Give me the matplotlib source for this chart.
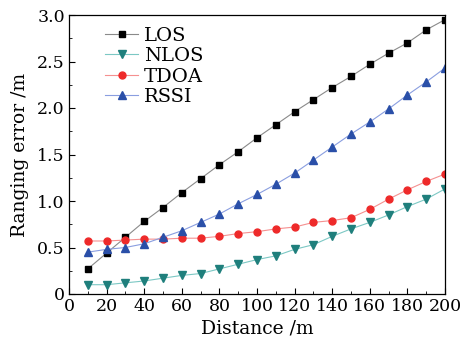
import matplotlib
matplotlib.use("Agg")
import matplotlib.pyplot as plt
from matplotlib.ticker import MultipleLocator

distance = [10, 20, 30, 40, 50, 60, 70, 80, 90, 100, 110, 120, 130, 140, 150, 160, 170, 180, 190, 200]
los = [0.27, 0.44, 0.61, 0.78, 0.93, 1.09, 1.24, 1.39, 1.53, 1.68, 1.82, 1.96, 2.09, 2.22, 2.34, 2.47, 2.59, 2.70, 2.84, 2.95]
nlos = [0.10, 0.10, 0.12, 0.14, 0.17, 0.20, 0.22, 0.27, 0.32, 0.37, 0.41, 0.48, 0.53, 0.62, 0.70, 0.77, 0.85, 0.94, 1.02, 1.13]
tdoa = [0.57, 0.57, 0.58, 0.59, 0.59, 0.60, 0.60, 0.62, 0.65, 0.67, 0.70, 0.72, 0.77, 0.79, 0.82, 0.91, 1.02, 1.12, 1.21, 1.29]
rssi = [0.45, 0.48, 0.50, 0.54, 0.61, 0.68, 0.77, 0.86, 0.97, 1.07, 1.18, 1.30, 1.44, 1.58, 1.72, 1.85, 1.99, 2.14, 2.28, 2.43]

plt.rcParams['font.family'] = ['DejaVu Serif']

fig = plt.figure(figsize=(4.74, 3.45), dpi=100)
ax = fig.add_axes([69/474, 1 - 294/345, (445-69)/474, (294-15)/345])

series = [
    ("LOS", los, "s", "#000000", "#8a8a8a", 4.2),
    ("NLOS", nlos, "v", "#1f7f7c", "#7cc8c4", 5.2),
    ("TDOA", tdoa, "o", "#ee2a2a", "#f59090", 5.0),
    ("RSSI", rssi, "^", "#2a4fa8", "#8a9ee0", 5.4),
]
for name, vals, mk, mc, lc, ms in series:
    ax.plot(distance, vals, color=lc, lw=0.8, marker=mk, markersize=ms,
            markerfacecolor=mc, markeredgecolor=mc, label=name)

ax.set_xlim(0, 200)
ax.set_ylim(0, 3.0)
ax.xaxis.set_major_locator(MultipleLocator(20))
ax.xaxis.set_minor_locator(MultipleLocator(10))
ax.set_yticks([0, 0.5, 1.0, 1.5, 2.0, 2.5, 3.0])
ax.set_yticklabels(["0", "0.5", "1.0", "1.5", "2.0", "2.5", "3.0"])
ax.yaxis.set_minor_locator(MultipleLocator(0.25))
ax.tick_params(which='both', direction='in', labelsize=12.5, pad=3)
ax.tick_params(which='major', length=4)
ax.tick_params(which='minor', length=2)
for s in ax.spines.values():
    s.set_linewidth(0.9)

ax.set_xlabel("Distance /m", fontsize=13.5, labelpad=3)
ax.set_ylabel("Ranging error /m", fontsize=13.5, labelpad=6)

ax.legend(loc='upper left', frameon=False, fontsize=14, handlelength=1.7,
          handletextpad=0.3, labelspacing=0.12, borderaxespad=0.0,
          bbox_to_anchor=(0.075, 0.985))

fig.savefig("out.png", dpi=100)
